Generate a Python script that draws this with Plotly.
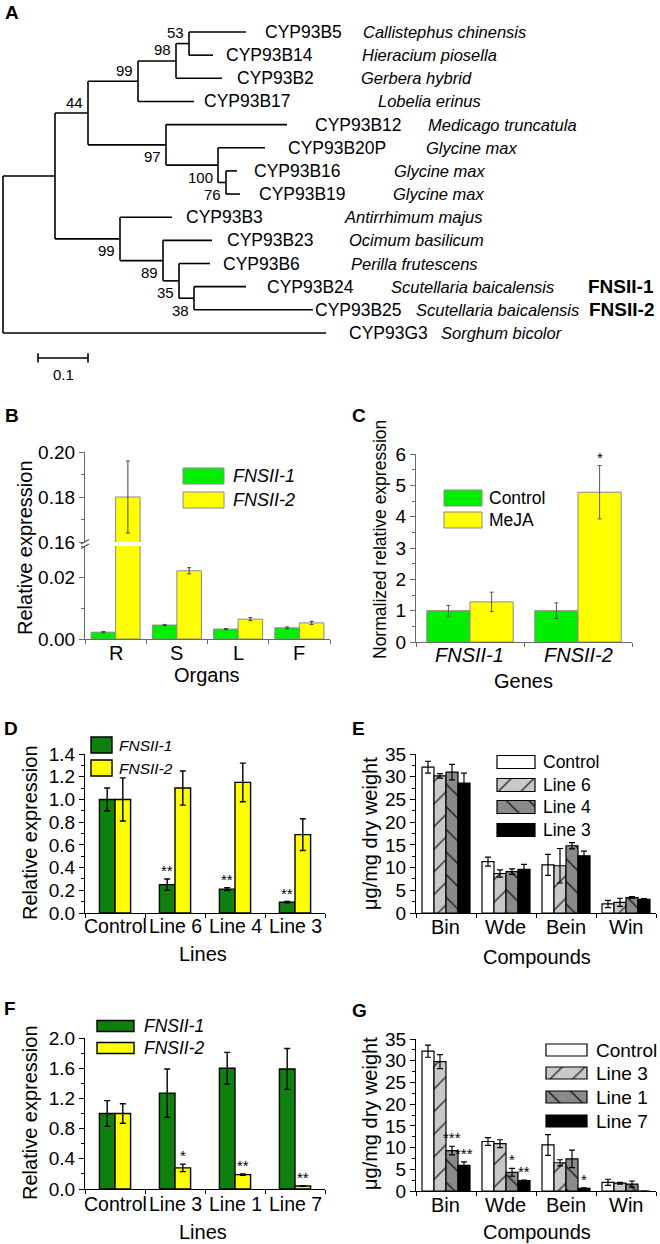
import plotly.graph_objects as go

W, H = 660, 1244
FONT = "Arial, Liberation Sans, Helvetica, sans-serif"


def px(x):
    return x / W


def py(y):
    return 1 - y / H


# ====================== DATA ======================
# Panel A - phylogenetic tree: node, parent, branch length
tree_nodes = ["nA", "G3", "n44", "n99b", "n99a", "n97", "n98", "B17", "n53", "B2",
              "B5", "B14", "B12", "nG", "B20P", "n100", "B16", "B19", "B3", "n89",
              "B23", "n35", "B6", "n38", "B24", "B25"]
tree_parents = ["root", "root", "nA", "nA", "n44", "n44", "n99a", "n99a", "n98", "n98",
                "n53", "n53", "n97", "n97", "nG", "nG", "n100", "n100", "n99b", "n99b",
                "n89", "n89", "n35", "n35", "n38", "n38"]
tree_lengths = [0.104, 0.646, 0.066, 0.130, 0.100, 0.156, 0.076, 0.112, 0.026, 0.092,
                0.114, 0.048, 0.242, 0.104, 0.094, 0.016, 0.022, 0.028, 0.104, 0.086,
                0.098, 0.032, 0.062, 0.030, 0.104, 0.238]
leaf_order = ["B5", "B14", "B2", "B17", "B12", "B20P", "B16", "B19", "B3", "B23",
              "B6", "B24", "B25", "G3"]
leaf_genes = ["CYP93B5", "CYP93B14", "CYP93B2", "CYP93B17", "CYP93B12", "CYP93B20P",
              "CYP93B16", "CYP93B19", "CYP93B3", "CYP93B23", "CYP93B6", "CYP93B24",
              "CYP93B25", "CYP93G3"]
leaf_species = ["Callistephus chinensis", "Hieracium piosella", "Gerbera hybrid",
                "Lobelia erinus", "Medicago truncatula", "Glycine max", "Glycine max",
                "Glycine max", "Antirrhimum majus", "Ocimum basilicum", "Perilla frutescens",
                "Scutellaria baicalensis", "Scutellaria baicalensis", "Sorghum bicolor"]
leaf_tags = ["", "", "", "", "", "", "", "", "", "", "", "FNSII-1", "FNSII-2", ""]
bootstrap_nodes = ["n53", "n98", "n99a", "n44", "n97", "nG", "n100", "n99b", "n89", "n35", "n38"]
bootstrap_values = ["53", "98", "99", "44", "97", "100", "76", "99", "89", "35", "38"]
scale_bar_length = 0.1

# Panel B
organs = ["R", "S", "L", "F"]
b_fnsii1 = [0.0022, 0.0045, 0.0032, 0.0036]
b_fnsii1_err = [0.0002, 0.0002, 0.0002, 0.0003]
b_fnsii2 = [0.180, 0.022, 0.0064, 0.0052]
b_fnsii2_err = [0.016, 0.001, 0.0005, 0.0005]

# Panel C
genes = ["FNSII-1", "FNSII-2"]
c_control = [1.0, 1.0]
c_control_err = [0.17, 0.25]
c_meja = [1.28, 4.78]
c_meja_err = [0.31, 0.85]
c_meja_sig = ["", "*"]

# Panel D
d_lines = ["Control", "Line 6", "Line 4", "Line 3"]
d_fnsii1 = [1.0, 0.25, 0.21, 0.095]
d_fnsii1_err = [0.10, 0.05, 0.012, 0.006]
d_fnsii1_sig = ["", "**", "**", "**"]
d_fnsii2 = [1.0, 1.10, 1.15, 0.69]
d_fnsii2_err = [0.19, 0.15, 0.17, 0.14]

# Panel E
compounds = ["Bin", "Wde", "Bein", "Win"]
e_series = ["Control", "Line 6", "Line 4", "Line 3"]
e_control = [32.1, 11.3, 10.6, 2.0]
e_control_err = [1.3, 1.0, 2.3, 0.8]
e_line6 = [30.2, 8.7, 10.4, 2.35]
e_line6_err = [0.5, 0.8, 3.8, 0.9]
e_line4 = [31.0, 9.1, 14.8, 3.4]
e_line4_err = [1.7, 0.6, 0.7, 0.2]
e_line3 = [28.6, 9.6, 12.6, 3.0]
e_line3_err = [2.2, 1.1, 1.0, 0.15]

# Panel F
f_lines = ["Control", "Line 3", "Line 1", "Line 7"]
f_fnsii1 = [1.0, 1.27, 1.60, 1.59]
f_fnsii1_err = [0.17, 0.32, 0.21, 0.27]
f_fnsii2 = [1.0, 0.28, 0.19, 0.04]
f_fnsii2_err = [0.13, 0.05, 0.01, 0.005]
f_fnsii2_sig = ["", "*", "**", "**"]

# Panel G
g_series = ["Control", "Line 3", "Line 1", "Line 7"]
g_control = [32.2, 11.4, 10.6, 2.0]
g_control_err = [1.4, 0.9, 2.4, 0.7]
g_line3 = [29.8, 10.9, 6.5, 1.8]
g_line3_err = [1.6, 0.9, 0.7, 0.2]
g_line1 = [9.3, 4.3, 7.4, 1.6]
g_line1_err = [1.0, 0.9, 2.0, 0.7]
g_line1_sig = ["***", "*", "", ""]
g_line7 = [5.9, 2.4, 0.6, 0.0]
g_line7_err = [0.8, 0.1, 0.1, 0.0]
g_line7_sig = ["***", "**", "*", ""]

# ====================== STYLES ======================
GREEN_L = "#00ee00"
GREEN_D = "#0d800d"
YELLOW = "#ffff00"
GRAY_L = "#c8c8c8"
GRAY_D = "#8a8a8a"
GRAY_AX = "#6a6a6a"

fig = go.Figure()
annotations = []
shapes = []


def ann(text, x, y, size=20, xref="paper", yref="paper", xanchor="center",
        yanchor="middle", angle=0, bold=False, italic=False, **kw):
    t = text
    if italic:
        t = "<i>%s</i>" % t
    if bold:
        t = "<b>%s</b>" % t
    annotations.append(dict(text=t, x=x, y=y, xref=xref, yref=yref, xanchor=xanchor,
                            yanchor=yanchor, textangle=angle, showarrow=False,
                            font=dict(family=FONT, size=size, color="black"), **kw))


# ====================== PANEL A: TREE ======================
blen = dict(zip(tree_nodes, tree_lengths))
children = {}
for n, p in zip(tree_nodes, tree_parents):
    children.setdefault(p, []).append(n)
parent_of = dict(zip(tree_nodes, tree_parents))
xpos = {"root": 0.0}


def setx(n):
    for c in children.get(n, []):
        xpos[c] = xpos[n] + blen[c]
        setx(c)


setx("root")
ypos = {leaf: i for i, leaf in enumerate(leaf_order)}


def sety(n):
    if n in ypos:
        return ypos[n]
    ys = [sety(c) for c in children[n]]
    ypos[n] = (min(ys) + max(ys)) / 2
    return ypos[n]


sety("root")
tx, ty = [], []
for n in ["root"] + tree_nodes:
    if n in children:
        cy = [ypos[c] for c in children[n]]
        tx += [xpos[n], xpos[n], None]
        ty += [min(cy), max(cy), None]
    if n != "root":
        tx += [xpos[parent_of[n]], xpos[n], None]
        ty += [ypos[n], ypos[n], None]
fig.add_trace(go.Scatter(x=tx, y=ty, mode="lines", line=dict(color="black", width=1.6),
                         xaxis="x", yaxis="y", showlegend=False, hoverinfo="skip"))

SB_X0 = 0.07
SB_Y = 14.08
SB_CAP = 0.2
fig.add_trace(go.Scatter(
    x=[SB_X0, SB_X0 + scale_bar_length, None, SB_X0, SB_X0, None,
       SB_X0 + scale_bar_length, SB_X0 + scale_bar_length],
    y=[SB_Y, SB_Y, None, SB_Y - SB_CAP, SB_Y + SB_CAP, None, SB_Y - SB_CAP, SB_Y + SB_CAP],
    mode="lines", line=dict(color="black", width=1.6),
    xaxis="x", yaxis="y", showlegend=False, hoverinfo="skip"))
ann(str(scale_bar_length), SB_X0 + scale_bar_length / 2, SB_Y + 0.72, size=15,
    xref="x", yref="y")

GENE_PX = [263, 224, 235, 202, 313, 286, 252, 257, 184, 225, 221, 265, 313, 347]
SPEC_PX = [361, 360, 359, 376, 426, 424, 392, 391, 342, 347, 349, 389, 414, 439]
for i, leaf in enumerate(leaf_order):
    ann(leaf_genes[i], px(GENE_PX[i]), ypos[leaf], size=17.5, yref="y", xanchor="left")
    ann(leaf_species[i], px(SPEC_PX[i]), ypos[leaf], size=16.5, yref="y", xanchor="left",
        italic=True)
    if leaf_tags[i]:
        ann(leaf_tags[i], 1.0, ypos[leaf], size=19, yref="y", xanchor="right", bold=True,
            xshift=-4)

BOOT_ABOVE = {"n53", "n98", "n99a", "n44"}
for node, val in zip(bootstrap_nodes, bootstrap_values):
    above = node in BOOT_ABOVE
    ann(val, xpos[node], ypos[node], size=15, xref="x", yref="y", xanchor="right",
        yanchor="middle", xshift=-3, yshift=(11 if above else -12))


# ====================== BAR HELPERS ======================
def add_bars(xa, ya, series, width, edge, edge_w, err_color, err_w, err_cap, sigs=None):
    n = len(series)
    for k, (vals, errs, marker) in enumerate(series):
        off = -n * width / 2 + k * width
        xs = list(range(1, len(vals) + 1))
        m = dict(marker)
        m["line"] = dict(color=edge, width=edge_w)
        fig.add_trace(go.Bar(x=xs, y=vals, width=width, offset=off, marker=m,
                             error_y=dict(type="data", array=errs, visible=True,
                                          color=err_color, thickness=err_w, width=err_cap),
                             xaxis=xa, yaxis=ya, showlegend=False, hoverinfo="skip"))
        if sigs and sigs[k]:
            for i, s in enumerate(sigs[k]):
                if s:
                    ann(s, xs[i] + off + width / 2, vals[i] + errs[i], size=15,
                        xref=xa, yref=ya, yanchor="bottom", yshift=-2)


def yax(top, bottom, rng, tick0, dtick, fmt, anchor, color="black"):
    return dict(domain=[py(bottom), py(top)], range=rng, tickmode="linear", tick0=tick0,
                dtick=dtick, tickformat=fmt, ticks="outside", ticklen=5, tickwidth=1.2,
                tickcolor=color, showline=True, linecolor=color, linewidth=1.2,
                showgrid=False, zeroline=False, anchor=anchor, automargin=False,
                tickfont=dict(family=FONT, size=19, color="black"))


def yminor(base, rng, tick0, dtick, anchor, color="black"):
    # companion axis carrying only the short intermediate ticks
    return dict(overlaying=base, range=rng, tickmode="linear", tick0=tick0, dtick=dtick,
                ticks="outside", ticklen=3, tickwidth=1, tickcolor=color,
                showticklabels=False, showline=False, showgrid=False, zeroline=False,
                anchor=anchor, automargin=False)


def xax(left, right, labels, anchor, label_y, xa, color="black", italic=False, size=20):
    n = len(labels)
    for i, lab in enumerate(labels):
        ann(lab, i + 1, py(label_y), size=size, xref=xa, yref="paper", italic=italic)
    return dict(domain=[px(left), px(right)], range=[0.5, n + 0.5], tickmode="linear",
                tick0=0.5, dtick=1, showticklabels=False, ticks="outside", ticklen=4,
                tickwidth=1, tickcolor=color, anchor=anchor, automargin=False,
                showline=True, linecolor=color, linewidth=1.2, showgrid=False,
                zeroline=False)


# ====================== PANELS ======================
b_series = [(b_fnsii1, b_fnsii1_err, dict(color=GREEN_L)),
            (b_fnsii2, b_fnsii2_err, dict(color=YELLOW))]
add_bars("x2", "y2", b_series, 0.4, "#8a8a8a", 1, "#444", 1, 2)
add_bars("x2", "y3", b_series, 0.4, "#8a8a8a", 1, "#444", 1, 2)

c_series = [(c_control, c_control_err, dict(color=GREEN_L)),
            (c_meja, c_meja_err, dict(color=YELLOW))]
add_bars("x3", "y4", c_series, 0.4, "#8a8a8a", 1, "#555", 1, 2, sigs=[None, c_meja_sig])

d_series = [(d_fnsii1, d_fnsii1_err, dict(color=GREEN_D)),
            (d_fnsii2, d_fnsii2_err, dict(color=YELLOW))]
add_bars("x4", "y5", d_series, 0.26, "black", 1.4, "black", 1.4, 3,
         sigs=[d_fnsii1_sig, None])

PAT = [dict(color="white"),
       dict(color=GRAY_L, pattern=dict(shape="/", fgcolor="#222", bgcolor=GRAY_L,
                                       size=16, solidity=0.08)),
       dict(color=GRAY_D, pattern=dict(shape="\\", fgcolor="#111", bgcolor=GRAY_D,
                                       size=16, solidity=0.08)),
       dict(color="black")]
e_ser = [(e_control, e_control_err, PAT[0]), (e_line6, e_line6_err, PAT[1]),
         (e_line4, e_line4_err, PAT[2]), (e_line3, e_line3_err, PAT[3])]
add_bars("x5", "y6", e_ser, 0.2, "black", 1.2, "black", 1.2, 3)

f_series = [(f_fnsii1, f_fnsii1_err, dict(color=GREEN_D)),
            (f_fnsii2, f_fnsii2_err, dict(color=YELLOW))]
add_bars("x6", "y7", f_series, 0.26, "black", 1.4, "black", 1.4, 3,
         sigs=[None, f_fnsii2_sig])

g_ser = [(g_control, g_control_err, PAT[0]), (g_line3, g_line3_err, PAT[1]),
         (g_line1, g_line1_err, PAT[2]), (g_line7, g_line7_err, PAT[3])]
add_bars("x7", "y8", g_ser, 0.2, "black", 1.2, "black", 1.2, 3,
         sigs=[None, None, g_line1_sig, g_line7_sig])

# ====================== LEGENDS (overlay axis in pixel units) ======================
LEGENDS = [
    dict(x0=183, x1=224, ys=[476, 500], h=16, tx=231, size=18, italic=True,
         names=["FNSII-1", "FNSII-2"], markers=[dict(color=GREEN_L), dict(color=YELLOW)],
         edge="#8a8a8a", ew=1),
    dict(x0=444, x1=482, ys=[498, 520], h=16, tx=487, size=17.5, italic=False,
         names=["Control", "MeJA"], markers=[dict(color=GREEN_L), dict(color=YELLOW)],
         edge="#8a8a8a", ew=1),
    dict(x0=91, x1=112, ys=[745, 768], h=16, tx=117, size=15.5, italic=True,
         names=["FNSII-1", "FNSII-2"], markers=[dict(color=GREEN_D), dict(color=YELLOW)],
         edge="black", ew=1.4),
    dict(x0=497, x1=535, ys=[762, 785, 807, 830], h=13, tx=541, size=17.5, italic=False,
         names=e_series, markers=PAT, edge="black", ew=1.2),
    dict(x0=97, x1=134, ys=[1026, 1048], h=11, tx=142, size=17.5, italic=True,
         names=["FNSII-1", "FNSII-2"], markers=[dict(color=GREEN_D), dict(color=YELLOW)],
         edge="black", ew=1.4),
    dict(x0=546, x1=587, ys=[1050, 1073, 1097, 1121], h=12, tx=594, size=19, italic=False,
         names=g_series, markers=PAT, edge="black", ew=1.2),
]
for L in LEGENDS:
    for name, yc, mk in zip(L["names"], L["ys"], L["markers"]):
        m = dict(mk)
        m["line"] = dict(color=L["edge"], width=L["ew"])
        fig.add_trace(go.Bar(orientation="h", y=[yc], x=[L["x1"] - L["x0"]], base=[L["x0"]],
                             width=L["h"], offset=-L["h"] / 2, marker=m,
                             xaxis="x8", yaxis="y9", showlegend=False, hoverinfo="skip"))
        ann(name, px(L["tx"]), py(yc), size=L["size"], xanchor="left", italic=L["italic"])

# ====================== TITLES & PANEL LETTERS ======================
for letter, (lx, ly) in zip("ABCDEFG", [(3, 13), (3, 415), (350, 415), (2, 728),
                                         (350, 728), (2, 1009), (350, 1010)]):
    ann(letter, px(lx), py(ly), size=19, xanchor="left", bold=True)

ann("Relative expression", px(25), py(548), size=20, angle=-90)
ann("Organs", px(207), py(675), size=20)
ann("Normalized relative expression", px(380), py(540), size=17.5, angle=-90)
ann("Genes", px(523), py(681), size=20)
ann("Relative expression", px(30), py(833), size=20, angle=-90)
ann("Lines", px(203), py(954), size=20)
ann("\u03bcg/mg dry weight", px(370), py(833), size=20, angle=-90)
ann("Compounds", px(537), py(957), size=20)
ann("Relative expression", px(30), py(1113), size=20, angle=-90)
ann("Lines", px(203), py(1232), size=20)
ann("\u03bcg/mg dry weight", px(370), py(1113), size=20, angle=-90)
ann("Compounds", px(537), py(1232), size=20)

for yb in (544, 548.5):
    shapes.append(dict(type="line", xref="paper", yref="paper", x0=px(81), x1=px(89),
                       y0=py(yb), y1=py(yb - 4.5), line=dict(color="#555", width=1.2)))

# ====================== LAYOUT ======================
layout = dict(
    template="none",
    width=W, height=H, margin=dict(l=0, r=0, t=0, b=0, pad=0), autosize=False,
    paper_bgcolor="white", plot_bgcolor="rgba(0,0,0,0)", showlegend=False,
    font=dict(family=FONT, color="black"),
    barmode="overlay",
    xaxis=dict(domain=[0, 1], range=[-3 / 500, 657 / 500], visible=False, anchor="y"),
    yaxis=dict(domain=[py(400), 1], range=[(400 - 32) / 23.15, -32 / 23.15],
               visible=False, anchor="x"),
    xaxis2=xax(85, 330, organs, "y2", 653, "x2", color=GRAY_AX),
    yaxis2=yax(546, 639, [0, 0.03], 0, 0.02, ".2f", "x2", color=GRAY_AX),
    yaxis3=yax(452, 542, [0.16, 0.20], 0.16, 0.02, ".2f", "x2", color=GRAY_AX),
    xaxis3=xax(416, 632, genes, "y4", 655, "x3", color=GRAY_AX, italic=True),
    yaxis4=yax(454, 642, [0, 6], 0, 1, "d", "x3", color=GRAY_AX),
    xaxis4=xax(85, 325, d_lines, "y5", 926, "x4", size=19.5),
    yaxis5=yax(754, 913, [0, 1.4], 0, 0.2, ".1f", "x4"),
    xaxis5=xax(416, 656, compounds, "y6", 927, "x5"),
    yaxis6=yax(754, 913, [0, 35], 0, 5, "d", "x5"),
    xaxis6=xax(85, 325, f_lines, "y7", 1204, "x6", size=19.5),
    yaxis7=yax(1038, 1189, [0, 2.0], 0, 0.4, ".1f", "x6"),
    xaxis7=xax(416, 656, compounds, "y8", 1205, "x7"),
    yaxis8=yax(1039, 1191, [0, 35], 0, 5, "d", "x7"),
    xaxis8=dict(domain=[0, 1], range=[0, W], visible=False, anchor="y9"),
    yaxis9=dict(domain=[0, 1], range=[H, 0], visible=False, anchor="x8"),
    # intermediate (minor) ticks
    yaxis10=yminor("y2", [0, 0.03], 0.01, 0.02, "x2", GRAY_AX),
    yaxis11=yminor("y3", [0.16, 0.20], 0.17, 0.02, "x2", GRAY_AX),
    yaxis12=yminor("y4", [0, 6], 0.5, 1, "x3", GRAY_AX),
    yaxis13=yminor("y5", [0, 1.4], 0.1, 0.2, "x4"),
    yaxis14=yminor("y6", [0, 35], 2.5, 5, "x5"),
    yaxis15=yminor("y7", [0, 2.0], 0.2, 0.4, "x6"),
    yaxis16=yminor("y8", [0, 35], 2.5, 5, "x7"),
    annotations=annotations,
    shapes=shapes,
)
fig.update_layout(**layout)

# invisible anchor traces so the minor-tick axes are laid out
for ya, xa in [("y10", "x2"), ("y11", "x2"), ("y12", "x3"), ("y13", "x4"),
               ("y14", "x5"), ("y15", "x6"), ("y16", "x7")]:
    fig.add_trace(go.Scatter(x=[None], y=[None], xaxis=xa, yaxis=ya, mode="markers",
                             showlegend=False, hoverinfo="skip"))

fig.write_html("out.html", config={"displayModeBar": False},
               post_script="document.body.style.margin='0px';")
